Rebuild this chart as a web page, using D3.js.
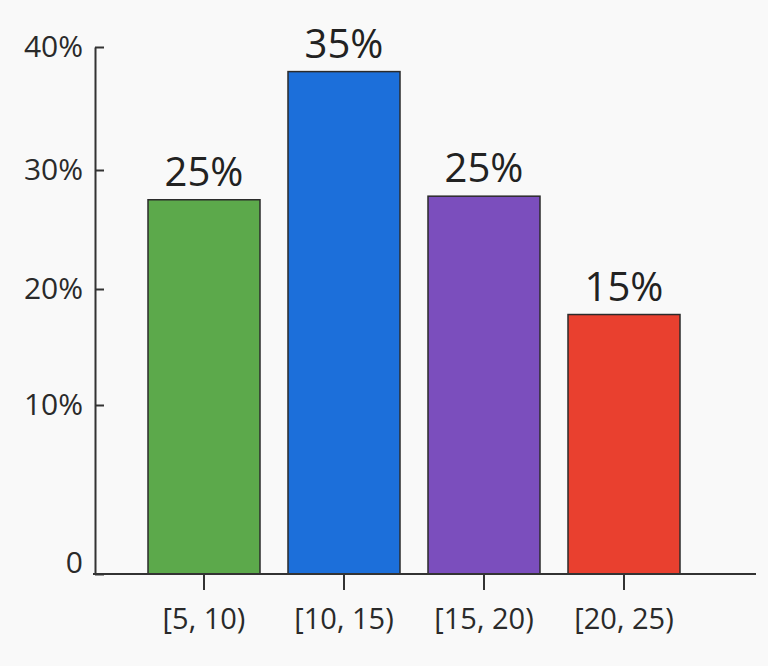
<!DOCTYPE html>
<html>
<head>
<meta charset="utf-8">
<script src="https://cdn.jsdelivr.net/npm/d3@7"></script>
<style>
  html, body { margin: 0; padding: 0; background: #f9f9f9; }
  svg { display: block; font-family: "Open Sans", "Noto Sans", sans-serif; }
</style>
</head>
<body>
<svg id="chart"></svg>
<script>
// bins on the x axis
const bins = ["[5, 10)", "[10, 15)", "[15, 20)", "[20, 25)"];
// bar heights
const heights = [27.5, 38.0, 27.8, 17.8];
// percentages printed above the bars
const barLabels = ["25%", "35%", "25%", "15%"];
const barColors = ["#5ca94b", "#1c6fda", "#7b4ebd", "#e9402f"];
const yTicks = [0, 10, 20, 30, 40];

const width = 768, height = 666;
const axisX = 95, baseY = 574;

const svg = d3.select("#chart")
  .attr("width", width)
  .attr("height", height)
  .attr("viewBox", [0, 0, width, height]);

// axis ticks are not evenly spaced in the original, so map each tick
const y = d3.scaleLinear()
  .domain(yTicks)
  .range([baseY, 405, 289, 170, 47]);

const x = d3.scaleBand()
  .domain(bins)
  .range([134, 694])
  .paddingInner(0.2)
  .paddingOuter(0.1);

// bars
svg.append("g")
  .selectAll("rect")
  .data(heights)
  .join("rect")
  .attr("x", (d, i) => x(bins[i]))
  .attr("y", d => y(d))
  .attr("width", x.bandwidth())
  .attr("height", d => baseY - y(d))
  .attr("fill", (d, i) => barColors[i])
  .attr("stroke", "#2b2b2b")
  .attr("stroke-width", 1.5);

// value labels
svg.append("g")
  .selectAll("text")
  .data(heights)
  .join("text")
  .attr("x", (d, i) => x(bins[i]) + x.bandwidth() / 2)
  .attr("y", d => y(d) - 14)
  .attr("text-anchor", "middle")
  .attr("font-size", 40)
  .attr("fill", "#222")
  .text((d, i) => barLabels[i]);

// y axis
const yAxis = svg.append("g")
  .attr("transform", `translate(${axisX},0)`)
  .call(d3.axisLeft(y)
    .tickValues(yTicks)
    .tickSizeInner(-9)
    .tickSizeOuter(0)
    .tickPadding(12)
    .tickFormat(d => d === 0 ? "0" : d + "%"))
  .attr("font-family", null)
  .attr("font-size", 30);
yAxis.select(".domain").attr("stroke", "#333").attr("stroke-width", 2);
yAxis.selectAll(".tick line").attr("stroke", "#333").attr("stroke-width", 2);
yAxis.selectAll(".tick text")
  .attr("fill", "#2a2a2a")
  .attr("dy", d => d === 0 ? "-0.05em" : "0.32em");

// x axis
const xAxis = svg.append("g")
  .attr("transform", `translate(0,${baseY})`)
  .call(d3.axisBottom(x).tickSizeInner(16).tickSizeOuter(0).tickPadding(18))
  .attr("font-family", null)
  .attr("font-size", 29);
xAxis.select(".domain")
  .attr("d", `M${axisX - 2},0H756`)
  .attr("stroke", "#333").attr("stroke-width", 2);
xAxis.selectAll(".tick line").attr("stroke", "#333").attr("stroke-width", 2);
xAxis.selectAll(".tick text").attr("fill", "#2a2a2a");
</script>
</body>
</html>
